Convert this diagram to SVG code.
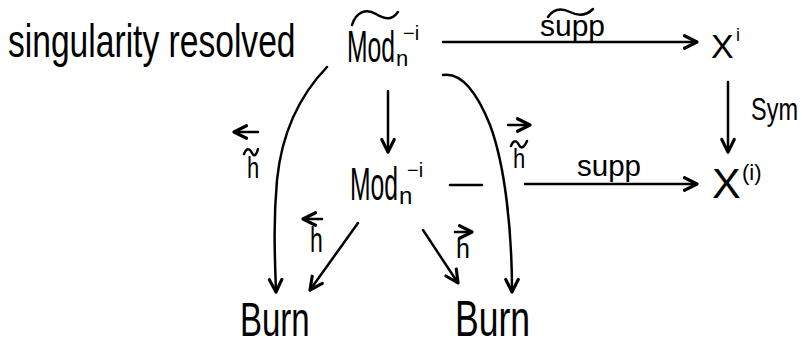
<svg xmlns="http://www.w3.org/2000/svg" width="802" height="348" viewBox="0 0 802 348">
<defs>
<marker id="ah" markerUnits="userSpaceOnUse" markerWidth="20" markerHeight="20" viewBox="-12 -8 16 16" refX="0" refY="0" orient="auto">
<path d="M-10,-5 L0,0 L-10,5" fill="none" stroke="#000" stroke-width="2.5" stroke-linecap="round" stroke-linejoin="round"/>
</marker>
<style>
.t{font-family:"Liberation Sans",Arial,sans-serif;fill:#000}
.l{fill:none;stroke:#000;stroke-width:2.5;stroke-linecap:round;stroke-linejoin:round}
.a{marker-end:url(#ah)}
</style>
</defs>
<rect width="802" height="348" fill="#fff"/>

<g id="caption">
<text class="t" x="0" y="0" font-size="33.6" transform="translate(8,57) scale(1,1.35)">singularity resolved</text>
</g>

<g id="node-modtilde">
<path class="l" d="M352,25 C356,12 366,8 376,14 S392,20 398,12"/>
<text class="t" x="0" y="0" font-size="24.7" transform="translate(347,62) scale(1,1.8)">Mod</text>
<text class="t" x="396" y="66" font-size="22">n</text>
<text class="t" x="403" y="40" font-size="20">−i</text>
</g>

<g id="node-xi">
<text class="t" x="711" y="58" font-size="34">X</text>
<text class="t" x="736" y="41" font-size="18">i</text>
</g>

<g id="node-mod">
<text class="t" x="0" y="0" font-size="24.7" transform="translate(350,200) scale(1,1.85)">Mod</text>
<text class="t" x="399" y="204" font-size="24">n</text>
<text class="t" x="407" y="177" font-size="20">−i</text>
</g>

<g id="node-xparen">
<text class="t" x="712" y="198" font-size="43">X</text>
<text class="t" x="742" y="180" font-size="22">(i)</text>
</g>

<g id="node-burn-left">
<text class="t" x="0" y="0" font-size="33" transform="translate(240,336) scale(1,1.45)">Burn</text>
</g>

<g id="node-burn-right">
<text class="t" x="0" y="0" font-size="35.5" transform="translate(455,336) scale(1,1.4)">Burn</text>
</g>

<g id="connectors">
<path class="l a" d="M443,42 L697,42"/>
<path class="l a" d="M728,82 L728,152"/>
<path class="l" d="M450,185 L482,185"/>
<path class="l a" d="M525,184 L697,184"/>
<path class="l a" d="M388,91 L388,152"/>
<path class="l a" d="M327,67 C300,95 282,130 277,180 C273,225 275,260 276,292"/>
<path class="l a" d="M443,75 C462,72 478,95 490,125 C505,165 512,230 512,292"/>
<path class="l a" d="M358,223 L310,290"/>
<path class="l a" d="M423,230 L458,283"/>
</g>

<g id="labels">
<path class="l" d="M548,17 C554,8 562,8 570,12 S586,16 593,9"/>
<text class="t" x="540" y="36" font-size="30">supp</text>
<text class="t" x="0" y="0" font-size="23.5" transform="translate(751,120) scale(1,1.35)">Sym</text>
<text class="t" x="577" y="176" font-size="29.5">supp</text>

<path class="l a" d="M258,132 L234,132"/>
<path class="l" d="M244,154 C247,147 250,149 252,153 S256,156 258,149"/>
<text class="t" x="0" y="0" font-size="22" transform="translate(247,178) scale(1,1.3)">h</text>

<path class="l a" d="M508,125 L530,125"/>
<path class="l" d="M511,146 C514,139 517,141 519,145 S524,148 527,141"/>
<text class="t" x="0" y="0" font-size="22" transform="translate(513,168) scale(1,1.25)">h</text>

<path class="l a" d="M322,219 L303,219"/>
<text class="t" x="0" y="0" font-size="23" transform="translate(310,252) scale(1,1.5)">h</text>

<path class="l a" d="M455,232 L472,232"/>
<text class="t" x="0" y="0" font-size="25" transform="translate(456,258) scale(1,1.1)">h</text>
</g>
</svg>
